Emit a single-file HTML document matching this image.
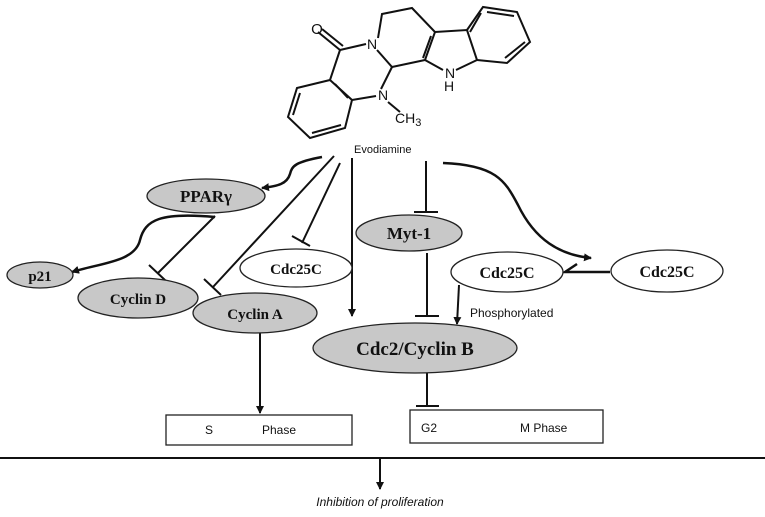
<!DOCTYPE html>
<html><head><meta charset="utf-8"><style>
html,body{margin:0;padding:0;background:#fff;}
svg{display:block}
.b{font-family:"Liberation Serif",serif;font-weight:bold;font-size:17px;text-anchor:middle;fill:#111}
.s{font-family:"Liberation Sans",sans-serif;font-size:12px;fill:#111}
</style></head><body>
<svg width="765" height="517" viewBox="0 0 765 517" xmlns="http://www.w3.org/2000/svg">
<defs>
<marker id="a" markerWidth="8" markerHeight="8" refX="7" refY="4" orient="auto" markerUnits="userSpaceOnUse"><path d="M0,0 L8,4 L0,8 z" fill="#111"/></marker>
<marker id="a2" markerWidth="6" markerHeight="6" refX="5" refY="3" orient="auto" markerUnits="userSpaceOnUse"><path d="M0,0 L6,3 L0,6 z" fill="#111"/></marker>
</defs>
<!-- molecule -->
<g stroke="#111" stroke-width="2" fill="none">
<path d="M340,50 L330,80 L297,88 L288,117 L310,138 L345,128 L352,100 L330,80"/>
<path d="M300,93 L293,115 M312,133 L341,125 M335,84 L348,98"/>
<path d="M340,50 L318,32 M343,46 L322,29"/>
<path d="M340,50 L366,44"/>
<path d="M378,38 L382,14 L412,8 L435,32 L425,60 L392,67 L377,50"/>
<path d="M392,67 L381,89"/>
<path d="M352,100 L376,96"/>
<path d="M388,102 L400,112"/>
<path d="M425,60 L443,70 M456,70 L477,60 L467,30 L435,32"/>
<path d="M431,36 L423,58"/>
<path d="M467,30 L483,7 L517,12 L530,42 L507,63 L477,60"/>
<path d="M487,12 L514,16 M525,42 L505,58 M470,32 L481,13"/>
</g>
<text x="317" y="34" class="s" style="font-size:15px" text-anchor="middle">O</text>
<text x="372" y="49" class="s" style="font-size:14px" text-anchor="middle">N</text>
<text x="383" y="100" class="s" style="font-size:14px" text-anchor="middle">N</text>
<text x="450" y="78" class="s" style="font-size:14px" text-anchor="middle">N</text>
<text x="449" y="91" class="s" style="font-size:14px" text-anchor="middle">H</text>
<text x="395" y="123" class="s" style="font-size:14px">CH<tspan dy="3" font-size="11">3</tspan></text>
<text x="354" y="153" class="s" style="font-size:11px">Evodiamine</text>

<!-- connectors -->
<g stroke="#111" stroke-width="2" fill="none">
<path d="M322,157 C295,162 292,166 290,174 C287,184 278,186 262,188" stroke-width="2.5" marker-end="url(#a)"/>
<path d="M215,217 C160,212 145,220 140,240 C135,262 100,263 72,272" stroke-width="2.5" marker-end="url(#a)"/>
<path d="M215,216 L158,273 M149,265 L166,281"/>
<path d="M334,156 L213,287 M204,279 L221,295"/>
<path d="M340,163 L302,243 M292,236 L310,246"/>
<path d="M352,158 L352,316" marker-end="url(#a)"/>
<path d="M426,161 L426,212 M414,212 L438,212"/>
<path d="M427,253 L427,316 M415,316 L439,316"/>
<path d="M443,163 C495,165 505,180 518,205 C535,240 560,255 591,258" stroke-width="2.5" marker-end="url(#a)"/>
<path d="M610,272 L565,272 L577,264" stroke-width="2.5"/>
<path d="M459,285 L457,324" marker-end="url(#a)"/>
<path d="M260,333 L260,413" marker-end="url(#a)"/>
<path d="M427,373 L427,405 M416,406 L439,406"/>
<path d="M0,458 L765,458"/>
<path d="M380,458 L380,489" marker-end="url(#a)"/>
</g>
<path d="M457,427 L512,427" stroke="#111" stroke-width="1" stroke-dasharray="2,1" marker-end="url(#a2)"/>

<!-- nodes -->
<g stroke="#222" stroke-width="1.3">
<ellipse cx="206" cy="196" rx="59" ry="17" fill="#c8c8c8"/>
<ellipse cx="40" cy="275" rx="33" ry="13" fill="#c8c8c8"/>
<ellipse cx="138" cy="298" rx="60" ry="20" fill="#c8c8c8"/>
<ellipse cx="296" cy="268" rx="56" ry="19" fill="#fff"/>
<ellipse cx="255" cy="313" rx="62" ry="20" fill="#c8c8c8"/>
<ellipse cx="409" cy="233" rx="53" ry="18" fill="#c8c8c8"/>
<ellipse cx="507" cy="272" rx="56" ry="20" fill="#fff"/>
<ellipse cx="667" cy="271" rx="56" ry="21" fill="#fff"/>
<ellipse cx="415" cy="348" rx="102" ry="25" fill="#c8c8c8"/>
<rect x="166" y="415" width="186" height="30" fill="#fff"/>
<rect x="410" y="410" width="193" height="33" fill="#fff"/>
</g>
<text x="206" y="202" class="b">PPARγ</text>
<text x="40" y="281" class="b" style="font-size:15px">p21</text>
<text x="138" y="304" class="b" style="font-size:15px">Cyclin  D</text>
<text x="296" y="274" class="b" style="font-size:15px">Cdc25C</text>
<text x="255" y="319" class="b" style="font-size:15px">Cyclin  A</text>
<text x="409" y="239" class="b">Myt-1</text>
<text x="507" y="278" class="b" style="font-size:16px">Cdc25C</text>
<text x="667" y="277" class="b" style="font-size:16px">Cdc25C</text>
<text x="415" y="355" class="b" style="font-size:19px">Cdc2/Cyclin B</text>
<text x="470" y="317" class="s">Phosphorylated</text>
<text x="205" y="434" class="s">S</text>
<text x="262" y="434" class="s">Phase</text>
<text x="421" y="432" class="s">G2</text>
<text x="520" y="432" class="s">M Phase</text>
<text x="380" y="506" class="s" text-anchor="middle" font-style="italic">Inhibition of proliferation</text>
</svg>
</body></html>
